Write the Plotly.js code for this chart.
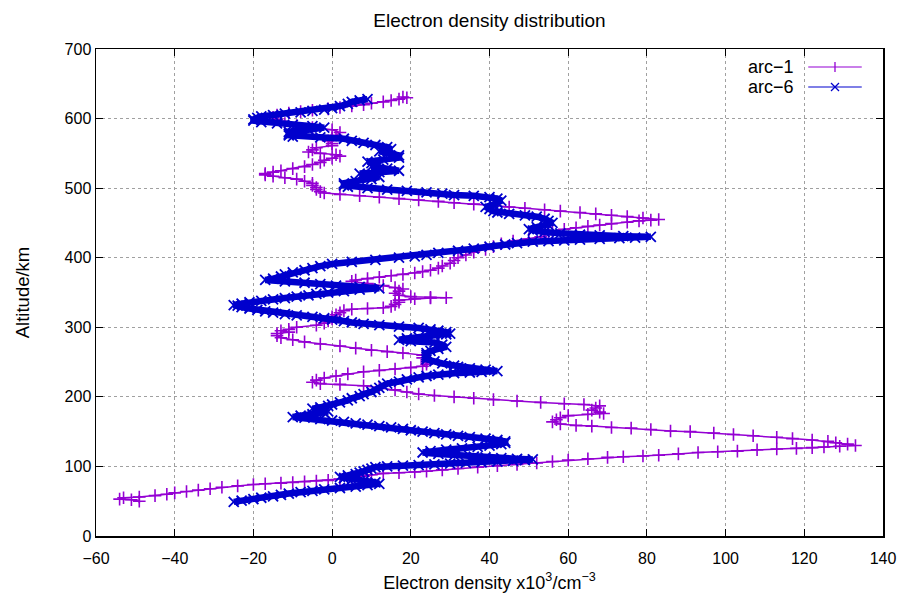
<!DOCTYPE html>
<html>
<head>
<meta charset="utf-8">
<script src="https://cdn.plot.ly/plotly-3.0.1.min.js"></script>
<style>html,body{margin:0;padding:0;background:#fff;}#chart{width:904px;height:599px;}</style>
</head>
<body>
<div id="chart"></div>
<script>
// arc-1 (purple): altitude (km) and electron density (x10^3 /cm^3)
const arc1Altitude = [
50,52,53,55,56,58,60,62,64,66,68,70,72,74,75,76,77,78,79,80,82,84,86,88,90,91,92,93,95,97,99,101,103,105,107,109,111,113,114,115,116,118,120,121,122,124,125,126,127,128,129,130,
132,134,136,138,140,142,144,146,148,150,151,153,155,156,158,159,161,164,167,170,173,175,176,178,181,184,187,189,190,192,194,196,198,200,202,204,207,210,213,216,218,219,221,224,227,230,233,236,238,240,242,244,247,250,253,256,260,263,265,267,270,273,276,279,282,285,288,291,293,295,297,300,303,306,309,312,315,318,321,324,326,327,328,330,333,336,339,341,342,342.5,343,344,346,349,352,355,357,360,363,366,368,370,372,374,376,378,380,382,385,388,392,396,400,404,408,412,416,420,424,427,430,434,438,441,443,445,447,449,451,453,454,455,
457,459,461,463,465,467,469,471,473,475,477,479,481,483,485,487,489,491,493,495,498,501,504,507,510,513,515,517,519,521,523,525,528,531,534,537,540,543,546,548,550,552,555,558,561,564,568,572,576,580,584,587,590,593,596,599,602,605,608,610,612,614,616,618,620,622,624,626,628,630,631
];
const arc1Density = [
-49,-51,-54,-53,-49,-45,-42,-40,-37,-34,-31,-28,-24,-20,-17,-13,-10,-7,-4,-1,2,5,8,10,13,17,21,24,28,32,37,42,47,52,56,60,65,70,74,79,83,88,93,98,103,108,113,118,122,125,129,133,
131,128,126,122,117,113,107,102,97,91,86,81,76,71,66,62,58,56,57,58,60,65,69,68,66,67,68,64,59,53,47,41,36,31,26,22,19,16,12,8,2,-3,-5,-4,-2,1,4,8,12,16,20,23,24,24,24,23,23,18,14,10,6,2,-3,-7,-10,-13,-14,-14,-11,-13,-11,-9,-4,-2,-1,0,0,1,2,3,5,9,13,15,16,17,17,21,25,29,25,20,17,16,17,18,16,13,9,5,6,9,12,15,18,21,23,25,27,28,30,31,32,34,36,39,41,43,46,50,53,55,56,59,62,65,68,71,75,78,81,83,
79,75,71,67,63,58,54,49,45,41,36,31,27,22,17,12,7,2,-2,-3,-4,-4,-5,-5,-7,-9,-12,-15,-17,-17,-15,-13,-10,-7,-5,-3,-2,0,2,1,-3,-6,-5,-4,0,0,-1,0,1,2,0,-5,-9,-12,-13,-14,-15,-14,-11,-8,-5,-1,2,5,8,10,13,15,17,19,18
];

// arc-6 (blue)
const arc6Altitude = [
49,51,53,55,57,59,61,63,65,67,69,71,73,75,77,79,81,83,85,87,89,91,93,95,97,99,100,101,102,103,104,105,106,107,108,109,110,
111,112,113,114,116,118,120,122,124,126,128,130,132,134,136,138,140,142,144,146,148,150,152,154,156,158,160,162,164,166,168,170,171,173,175,177,179,181,183,185,187,189,192,195,198,201,204,207,210,213,216,219,222,225,228,230,232,234,235,236,237,
239,241,243,245,248,251,254,257,260,263,266,269,272,275,278,280,282,284,286,288,290,291,293,295,297,299,301,303,305,307,309,311,313,315,317,319,321,323,325,327,329,331,332,334,336,338,340,342,344,346,348,350,352,354,356,358,360,362,364,366,368,370,373,376,379,382,385,388,391,394,397,400,402,404,407,410,413,416,419,421,423,424,425,426,427,428,429,430,
431,432,433,435,437,439,441,444,447,450,453,456,459,461,463,465,467,470,473,476,479,482,485,487,489,490,492,494,496,498,500,502,504,507,510,513,516,519,521,523,525,528,531,534,536,538,541,544,547,550,553,556,559,562,565,568,571,573,574,576,578,581,584,587,589,591,593,595,597,599,601,603,605,607,609,611,613,615,618,621,624,626,628
];
const arc6Density = [
-25,-23,-20,-18,-15,-13,-11,-8,-5,-2,2,6,9,12,11,8,5,3,2,4,6,7,8,9,10,11,14,18,22,26,30,34,38,42,46,49,51,
47,43,39,36,31,27,23,25,29,33,37,40,43,44,44,42,39,35,32,29,26,23,20,18,15,12,9,6,3,0,-3,-7,-10,-8,-5,-2,-1,-3,-5,-3,-1,0,2,4,5,7,8,10,11,12,13,14,17,19,22,24,27,31,35,38,42,
39,35,32,31,28,26,24,24,24,24,25,27,29,28,26,20,17,19,22,26,29,30,29,27,25,22,17,12,8,5,3,0,-2,-5,-9,-12,-15,-17,-19,-21,-23,-24,-25,-23,-21,-18,-15,-12,-9,-6,-4,-1,3,7,12,7,1,-3,-7,-12,-17,-15,-13,-12,-10,-7,-5,-3,0,5,11,17,21,24,27,32,36,40,44,47,51,55,59,63,68,73,77,81,
74,68,63,58,54,51,50,52,55,56,55,54,52,49,45,42,41,40,39,41,42,43,42,40,36,31,28,24,19,14,9,4,3,3,6,10,12,9,7,12,17,14,10,12,10,9,13,17,17,14,12,15,14,11,8,5,3,-3,-10,-11,-11,-11,-6,-2,-5,-10,-14,-18,-20,-20,-19,-18,-15,-12,-8,-5,-2,0,2,4,5,7,9
];

const seriesNames = ["arc\u22121", "arc\u22126"];
const xTicks = [-60,-40,-20,0,20,40,60,80,100,120,140];
const yTicks = [0,100,200,300,400,500,600,700];

const PURPLE = "#9400d3";
const BLUE = "#0000cd";
const FONT = "Liberation Sans, Arial, Helvetica, sans-serif";

const traces = [
  {
    x: arc1Density, y: arc1Altitude, name: seriesNames[0], type: "scatter", mode: "lines+markers",
    line: {color: PURPLE, width: 1.5},
    marker: {symbol: "cross-thin", size: 9, color: PURPLE, line: {color: PURPLE, width: 1.6}},
    showlegend: false
  },
  {
    x: arc6Density, y: arc6Altitude, name: seriesNames[1], type: "scatter", mode: "lines+markers",
    line: {color: BLUE, width: 6.5},
    marker: {symbol: "x-thin", size: 10, color: BLUE, line: {color: BLUE, width: 1.8}},
    showlegend: false
  }
];

const axisCommon = {
  showgrid: true, gridcolor: "#a0a0a0", griddash: "dot", gridwidth: 1,
  zeroline: false, showline: true, linecolor: "#000", linewidth: 1.5, mirror: "ticks",
  ticks: "inside", ticklen: 7, tickwidth: 1, tickcolor: "#000", automargin: false,
  tickfont: {family: FONT, size: 16, color: "#000"}
};

// legend (gnuplot style: text then sample on the right)
const legY = [0.963, 0.922];
const annotations = [];
const shapes = [];
[0,1].forEach(i => {
  annotations.push({xref: "paper", yref: "paper", x: 0.889, y: legY[i], xanchor: "right", yanchor: "middle",
    text: seriesNames[i], showarrow: false, font: {family: FONT, size: 18, color: "#000"}});
  const c = i === 0 ? PURPLE : BLUE;
  shapes.push({type: "line", xref: "paper", yref: "paper", x0: 0.905, x1: 0.973, y0: legY[i], y1: legY[i], line: {color: c, width: 1.2}});
  if (i === 0) {
    shapes.push({type: "line", xref: "paper", yref: "paper", xsizemode: "pixel", ysizemode: "pixel", xanchor: 0.939, yanchor: legY[i],
      x0: 0, x1: 0, y0: -5, y1: 5, line: {color: c, width: 1.3}});
  } else {
    shapes.push({type: "line", xref: "paper", yref: "paper", xsizemode: "pixel", ysizemode: "pixel", xanchor: 0.939, yanchor: legY[i],
      x0: -4, x1: 4, y0: -4, y1: 4, line: {color: c, width: 1.3}});
    shapes.push({type: "line", xref: "paper", yref: "paper", xsizemode: "pixel", ysizemode: "pixel", xanchor: 0.939, yanchor: legY[i],
      x0: -4, x1: 4, y0: 4, y1: -4, line: {color: c, width: 1.3}});
  }
});

const layout = {
  width: 904, height: 599,
  margin: {l: 96, r: 21, t: 49, b: 63},
  paper_bgcolor: "#fff", plot_bgcolor: "#fff",
  font: {family: FONT, color: "#000"},
  title: {text: "Electron density distribution", font: {family: FONT, size: 19, color: "#000"},
    x: 0.5, xref: "paper", y: 0.966, yref: "container", yanchor: "middle"},
  xaxis: Object.assign({}, axisCommon, {
    range: [-60, 140], tickvals: xTicks, ticktext: xTicks.map(v => v < 0 ? "\u2212" + Math.abs(v) : String(v)),
    ticklabelstandoff: 7,
    title: {text: "Electron density x10<sup>3</sup>/cm<sup>\u22123</sup>", font: {family: FONT, size: 18, color: "#000"}, standoff: 10}
  }),
  yaxis: Object.assign({}, axisCommon, {
    range: [0, 700], tickvals: yTicks, ticktext: yTicks.map(String),
    title: {text: "Altitude/km", font: {family: FONT, size: 18.5, color: "#000"}, standoff: 30}
  }),
  annotations: annotations,
  shapes: shapes,
  showlegend: false
};

Plotly.newPlot("chart", traces, layout, {displayModeBar: false, staticPlot: true});
</script>
</body>
</html>
